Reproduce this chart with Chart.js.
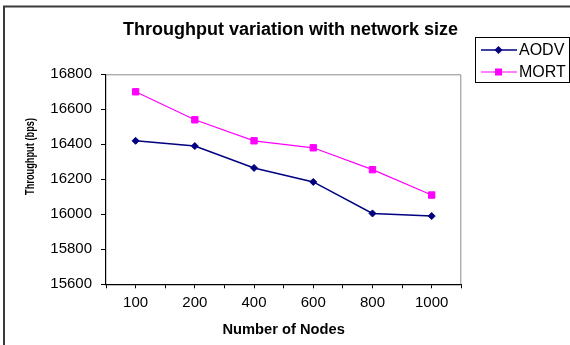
<!DOCTYPE html>
<html>
<head>
<meta charset="utf-8">
<script src="https://cdn.jsdelivr.net/npm/chart.js"></script>
<style>
  body { margin: 0; background: #fff; }
  canvas { display: block; }
</style>
</head>
<body>
<canvas id="throughputChart" width="570" height="345"></canvas>
<script>
// values
const nodeCounts = ['100', '200', '400', '600', '800', '1000'];
const aodvThroughput = [16420, 16390, 16265, 16185, 16005, 15990];
const mortThroughput = [16700, 16540, 16420, 16380, 16255, 16110];
const yTicks = [15600, 15800, 16000, 16200, 16400, 16600, 16800];

const chartTitle = 'Throughput variation with network size';
const yTitle = 'Throughput (bps)';
const xTitle = 'Number of Nodes';
const fontFamily = '"Liberation Sans", Arial, sans-serif';

const toPoints = (vals) => vals.map((v, i) => ({ x: i, y: v }));

// frame, plot border, title, y title and the boxed legend
const decorations = {
  id: 'decorations',
  beforeDraw(chart) {
    const ctx = chart.ctx;
    ctx.save();
    ctx.fillStyle = '#fff';
    ctx.fillRect(0, 0, chart.width, chart.height);
    ctx.strokeStyle = '#3a3a3a';
    ctx.lineWidth = 2;
    ctx.beginPath();
    ctx.moveTo(4, chart.height);
    ctx.lineTo(4, 6.5);
    ctx.lineTo(chart.width, 6.5);
    ctx.stroke();
    ctx.restore();
  },
  beforeDatasetsDraw(chart) {
    const ctx = chart.ctx;
    const a = chart.chartArea;
    ctx.save();
    ctx.strokeStyle = '#8c8c8c';
    ctx.lineWidth = 1;
    ctx.beginPath();
    ctx.moveTo(a.left, a.top + 0.5);
    ctx.lineTo(a.right - 0.5, a.top + 0.5);
    ctx.lineTo(a.right - 0.5, a.bottom);
    ctx.stroke();
    ctx.restore();
  },
  afterDraw(chart) {
    const ctx = chart.ctx;
    ctx.save();
    ctx.fillStyle = '#000';

    // chart title
    ctx.font = 'bold 18px ' + fontFamily;
    ctx.textAlign = 'center';
    ctx.textBaseline = 'alphabetic';
    ctx.fillText(chartTitle, 290.5, 34.5);

    // y axis title (narrow, as in the picture)
    ctx.save();
    ctx.translate(31, 156.5);
    ctx.rotate(-Math.PI / 2);
    ctx.font = 'bold 12.5px ' + fontFamily;
    const w = ctx.measureText(yTitle).width;
    ctx.scale(77 / w, 1);
    ctx.textBaseline = 'middle';
    ctx.fillText(yTitle, 0, 0);
    ctx.restore();

    // legend
    ctx.strokeStyle = '#000';
    ctx.lineWidth = 1;
    ctx.strokeRect(475.5, 37.5, 94, 45);
    ctx.font = '16px ' + fontFamily;
    ctx.textAlign = 'left';
    ctx.textBaseline = 'middle';
    chart.data.datasets.forEach((ds, i) => {
      const y = 50 + i * 22;
      ctx.strokeStyle = ds.borderColor;
      ctx.lineWidth = ds.borderWidth;
      ctx.beginPath();
      ctx.moveTo(481, y);
      ctx.lineTo(517, y);
      ctx.stroke();
      ctx.fillStyle = ds.pointBackgroundColor;
      ctx.beginPath();
      if (ds.pointStyle === 'rectRot') {
        const r = 4;
        ctx.moveTo(498.5, y - r);
        ctx.lineTo(498.5 + r, y);
        ctx.lineTo(498.5, y + r);
        ctx.lineTo(498.5 - r, y);
        ctx.closePath();
      } else {
        ctx.rect(498.5 - 3.5, y - 3.5, 7, 7);
      }
      ctx.fill();
      ctx.fillStyle = '#000';
      ctx.fillText(ds.label, 519, y + 1);
    });
    ctx.restore();
  }
};

new Chart(document.getElementById('throughputChart'), {
  type: 'line',
  data: {
    datasets: [{
      label: 'AODV',
      data: toPoints(aodvThroughput),
      borderColor: '#000080',
      backgroundColor: '#000080',
      pointBackgroundColor: '#000080',
      pointBorderColor: '#000080',
      borderWidth: 1.5,
      pointStyle: 'rectRot',
      pointRadius: 3.5,
      pointBorderWidth: 1,
      tension: 0
    }, {
      label: 'MORT',
      data: toPoints(mortThroughput),
      borderColor: '#ff00ff',
      backgroundColor: '#ff00ff',
      pointBackgroundColor: '#ff00ff',
      pointBorderColor: '#ff00ff',
      borderWidth: 1.2,
      pointStyle: 'rect',
      pointRadius: 4.5,
      pointBorderWidth: 1,
      tension: 0
    }]
  },
  options: {
    responsive: false,
    animation: false,
    devicePixelRatio: 1,
    layout: { padding: { top: 74.3, right: 108.7, left: 0, bottom: 0 } },
    plugins: {
      legend: { display: false },
      title: { display: false },
      tooltip: { enabled: false }
    },
    scales: {
      x: {
        type: 'linear',
        min: -0.5,
        max: nodeCounts.length - 0.5,
        afterFit(scale) { scale.height = 60.7; },
        afterBuildTicks(scale) {
          const t = [];
          for (let v = -0.5; v <= nodeCounts.length - 0.5; v += 0.5) t.push({ value: v });
          scale.ticks = t;
        },
        ticks: {
          autoSkip: false,
          maxRotation: 0,
          padding: 6,
          color: '#000',
          font: { family: fontFamily, size: 15 },
          callback: (v) => Number.isInteger(v) ? nodeCounts[v] : ''
        },
        grid: { drawOnChartArea: false, tickLength: 4, color: '#000', lineWidth: 1 },
        border: { display: true, color: '#000', width: 1.2 },
        title: {
          display: true,
          text: xTitle,
          color: '#000',
          font: { family: fontFamily, size: 14.7, weight: 'bold' },
          padding: { top: 0, bottom: 6.5 }
        }
      },
      y: {
        min: yTicks[0],
        max: yTicks[yTicks.length - 1],
        afterFit(scale) { scale.width = 106; },
        afterBuildTicks(scale) { scale.ticks = yTicks.map((v) => ({ value: v })); },
        ticks: {
          padding: 9,
          color: '#000',
          font: { family: fontFamily, size: 15 },
          callback: (v) => String(v)
        },
        grid: { drawOnChartArea: false, tickLength: 5, color: '#000', lineWidth: 1 },
        border: { display: true, color: '#000', width: 1.2 }
      }
    }
  },
  plugins: [decorations]
});
</script>
</body>
</html>
